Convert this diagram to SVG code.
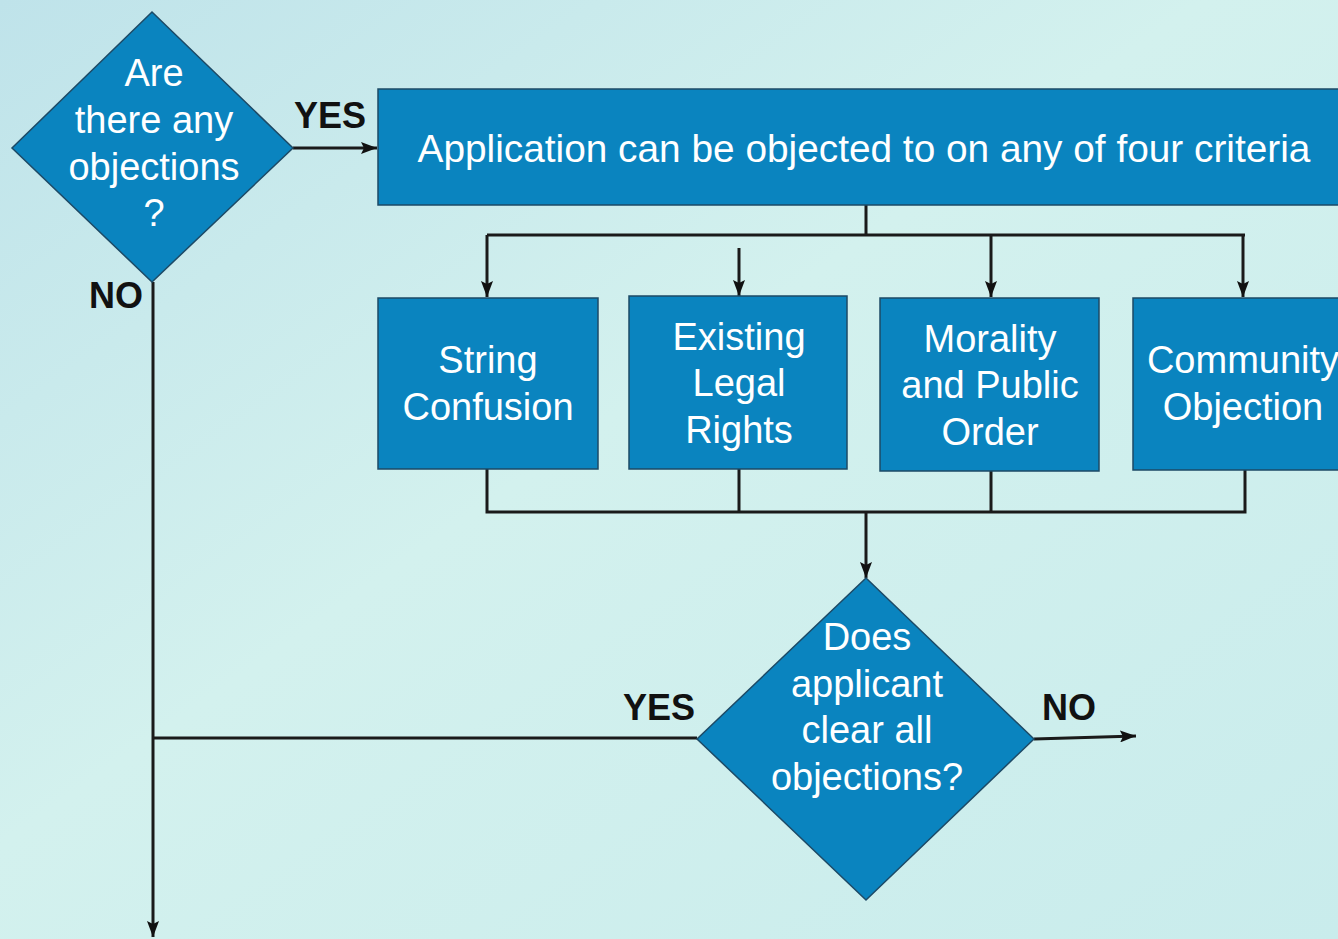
<svg xmlns="http://www.w3.org/2000/svg" width="1338" height="939" viewBox="0 0 1338 939">
<defs>
<linearGradient id="bg" x1="0" y1="0" x2="1" y2="1">
<stop offset="0" stop-color="#bfe3ea"/>
<stop offset="0.45" stop-color="#d3f1ee"/>
<stop offset="1" stop-color="#c9ecec"/>
</linearGradient>
<marker id="ah" viewBox="0 0 16 12" refX="16" refY="6" markerWidth="16" markerHeight="12" markerUnits="userSpaceOnUse" orient="auto">
<path d="M0,0 L16,6 L0,12 L3,6 Z" fill="#111"/>
</marker>
<style>
.n{fill:#0a84bf;stroke:#1d4a66;stroke-width:1.5}
.t{font-family:"Liberation Sans",Arial,sans-serif;font-size:38px;fill:#fff;text-anchor:middle}
.l{font-family:"Liberation Sans",Arial,sans-serif;font-size:36px;font-weight:bold;fill:#111;text-anchor:middle}
.c{fill:none;stroke:#1a1a1a;stroke-width:3}
</style>
</defs>
<rect width="1338" height="939" fill="url(#bg)"/>
<g id="connectors">
<path class="c" d="M293,148 H377" marker-end="url(#ah)"/>
<path class="c" d="M153,282 V937" marker-end="url(#ah)"/>
<path class="c" d="M866,205 V235 M487,235 H1245"/>
<path class="c" d="M487,235 V297" marker-end="url(#ah)"/>
<path class="c" d="M739,248 V296" marker-end="url(#ah)"/>
<path class="c" d="M991,235 V297" marker-end="url(#ah)"/>
<path class="c" d="M1243,235 V297" marker-end="url(#ah)"/>
<path class="c" d="M487,469 V512 H1245 V470 M739,469 V512 M991,471 V512"/>
<path class="c" d="M866,512 V578" marker-end="url(#ah)"/>
<path class="c" d="M153,738 H697"/>
<path class="c" d="M1034,739 L1136,736" marker-end="url(#ah)"/>
<text class="l" x="330" y="128">YES</text>
<text class="l" x="116" y="308">NO</text>
<text class="l" x="659" y="720">YES</text>
<text class="l" x="1069" y="720">NO</text>
</g>
<g id="q1">
<polygon class="n" points="152,12 293,148 152,282 12,148"/>
<text class="t" x="154" y="86">Are</text>
<text class="t" x="154" y="133">there any</text>
<text class="t" x="154" y="180">objections</text>
<text class="t" x="154" y="226">?</text>
</g>
<g id="criteria">
<rect class="n" x="378" y="89" width="965" height="116"/>
<text class="t" x="864" y="162" style="font-size:38.8px">Application can be objected to on any of four criteria</text>
</g>
<g id="string">
<rect class="n" x="378" y="298" width="220" height="171"/>
<text class="t" x="488" y="373">String</text>
<text class="t" x="488" y="420">Confusion</text>
</g>
<g id="legal">
<rect class="n" x="629" y="296" width="218" height="173"/>
<text class="t" x="739" y="350">Existing</text>
<text class="t" x="739" y="396">Legal</text>
<text class="t" x="739" y="443">Rights</text>
</g>
<g id="morality">
<rect class="n" x="880" y="298" width="219" height="173"/>
<text class="t" x="990" y="352">Morality</text>
<text class="t" x="990" y="398">and Public</text>
<text class="t" x="990" y="445">Order</text>
</g>
<g id="community">
<rect class="n" x="1133" y="298" width="215" height="172"/>
<text class="t" x="1243" y="373">Community</text>
<text class="t" x="1243" y="420">Objection</text>
</g>
<g id="q2">
<polygon class="n" points="866,578 1034,739 866,900 697,739"/>
<text class="t" x="867" y="650">Does</text>
<text class="t" x="867" y="697">applicant</text>
<text class="t" x="867" y="743">clear all</text>
<text class="t" x="867" y="790">objections?</text>
</g>
</svg>
